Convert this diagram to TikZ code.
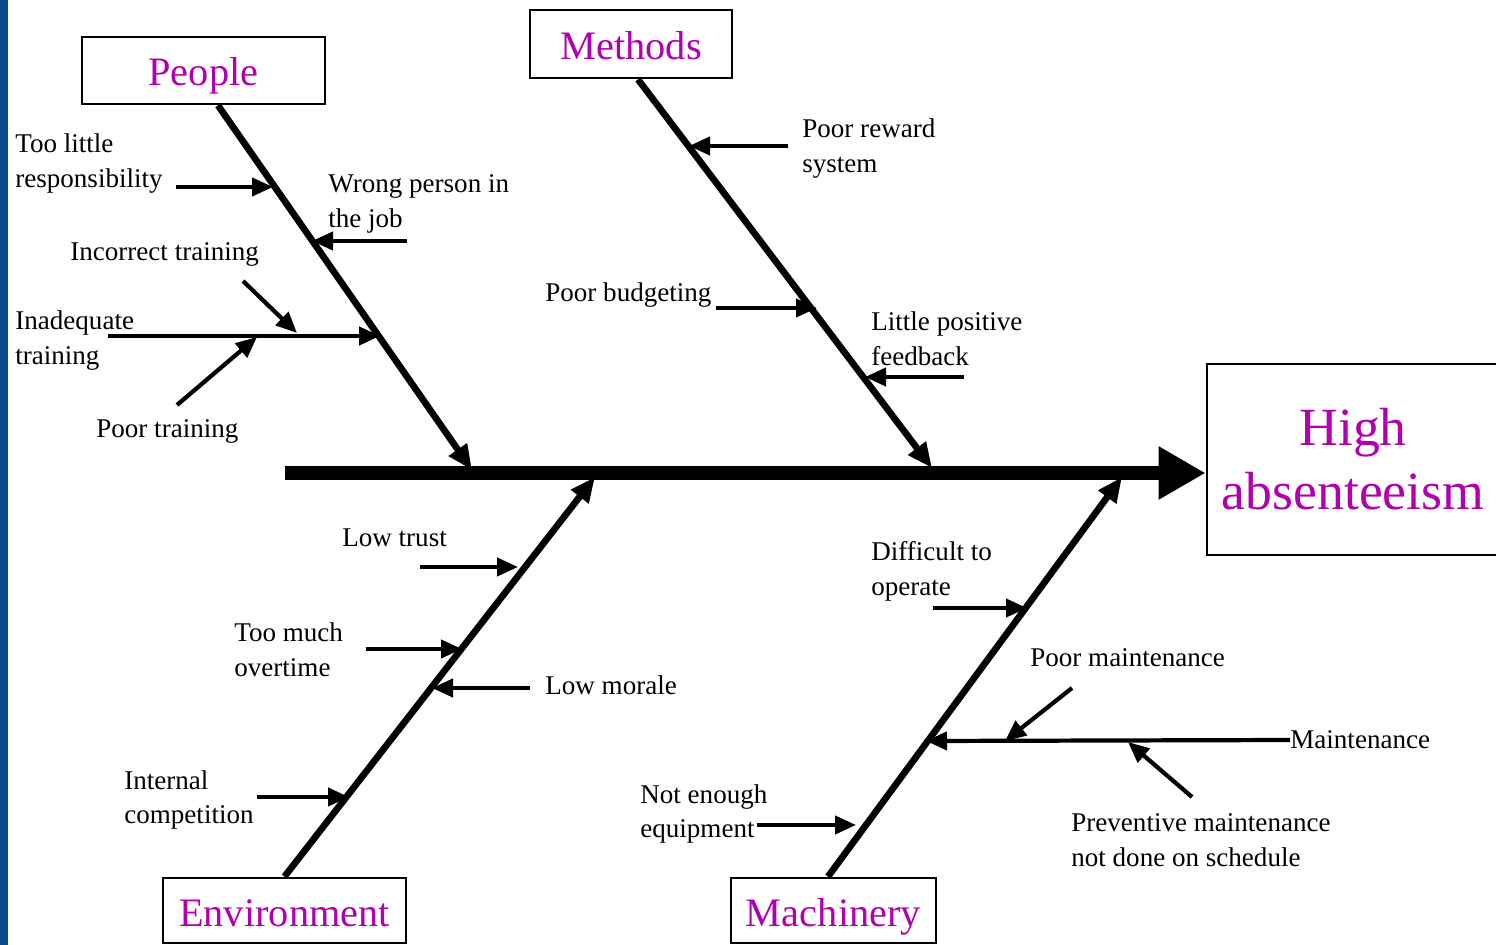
\documentclass[tikz,border=0pt]{standalone}
\usepackage{fontspec}
\setmainfont{Liberation Serif}
\usetikzlibrary{arrows.meta}
\definecolor{catmag}{RGB}{176,0,176}
\definecolor{edgeblue}{RGB}{12,74,140}
\newcommand{\causefont}{\fontsize{15.4}{19.9}\selectfont}
\newcommand{\catfont}{\fontsize{23}{27}\selectfont}
\newcommand{\effectfont}{\fontsize{30.6}{36.4}\selectfont}

\begin{document}
\begin{tikzpicture}[x=0.02cm, y=-0.02cm,
                    cat node/.style={draw, line width=1.6pt, inner sep=0pt, text=catmag, font=\catfont,
                                     text height=0.7cm, text depth=0.08cm},
                    cause node/.style={anchor=west, inner sep=0pt, align=left, font=\causefont},
                    spine/.style={line width=8pt, -{Triangle[length=0.94cm, width=1.0cm]}},
                    bone/.style={line width=3.8pt, -{Triangle[length=0.5cm, width=0.42cm]}},
                    cause/.style={line width=2.4pt, -{Triangle[length=0.42cm, width=0.36cm]}}]

  \useasboundingbox (0,0) rectangle (1496,945);
  \clip (0,0) rectangle (1496,945);
  \fill[white] (0,0) rectangle (1496,945);
  \fill[edgeblue] (0,0) rectangle (8,945);

  % effect and categories
  \node[cat node, minimum width=5.84cm, minimum height=3.82cm, align=center, font=\effectfont,
        text height=, text depth=] (effect) at (1353,459.5) {High\\absenteeism};
  \node[cat node, minimum width=4.86cm, minimum height=1.34cm] (people) at (203.5,70.5) {People};
  \node[cat node, minimum width=4.04cm, minimum height=1.36cm] (methods) at (631,44) {Methods};
  \node[cat node, minimum width=4.86cm, minimum height=1.30cm] (environment) at (284.5,910.5) {Environment};
  \node[cat node, minimum width=4.10cm, minimum height=1.30cm] (machinery) at (833.5,910.5) {Machinery};

  % causes
  \node[cause node] (tooLittle) at (15,164) {Too little\\responsibility};
  \node[cause node] (wrongPerson) at (328,204) {Wrong person in\\the job};
  \node[cause node] (incorrect) at (70,254) {Incorrect training};
  \node[cause node] (inadequate) at (15,341) {Inadequate\\training};
  \node[cause node] (poorTraining) at (96,431) {Poor training};
  \node[cause node] (poorReward) at (802,149) {Poor reward\\system};
  \node[cause node] (poorBudget) at (545,295) {Poor budgeting};
  \node[cause node] (littlePos) at (871,339) {Little positive\\feedback};
  \node[cause node] (lowTrust) at (342,538) {Low trust};
  \node[cause node] (tooMuch) at (234,650) {Too much\\overtime};
  \node[cause node] (lowMorale) at (545,685) {Low morale};
  \node[cause node] (internal) at (124,800) {Internal\\competition};
  \node[cause node] (difficult) at (871,571) {Difficult to\\operate};
  \node[cause node] (poorMaint) at (1030,658) {Poor maintenance};
  \node[cause node] (maint) at (1290,740) {Maintenance};
  \node[cause node] (preventive) at (1071,840) {Preventive maintenance\\not done on schedule};
  \node[cause node] (notEnough) at (640,814) {Not enough\\equipment};

  % spine and bones
  \coordinate (tail) at (285,473);
  \coordinate (pTip) at (472,470);
  \coordinate (mTip) at (932,468);
  \coordinate (eTip) at (595,477);
  \coordinate (kTip) at (1122,477);

  \draw[spine] (tail) -- (tail -| effect.west);
  \path[bone]
    ([xshift=0.29cm]people.south) edge (pTip)
    ([xshift=0.14cm]methods.south) edge (mTip)
    (environment.north) edge (eTip)
    ([xshift=-0.11cm]machinery.north) edge (kTip);

  % arrow ends
  \coordinate (p1) at (176,187);  \coordinate (p1t) at (273,187);
  \coordinate (p2) at (407,241);  \coordinate (p2t) at (312,241);
  \coordinate (p3) at (243,281);  \coordinate (p3t) at (297,333);
  \coordinate (p4) at (108,336);  \coordinate (p4t) at (380,336);
  \coordinate (p5) at (177,405);  \coordinate (p5t) at (257,337);
  \coordinate (m1) at (788,146);  \coordinate (m1t) at (689,146);
  \coordinate (m2) at (716,308);  \coordinate (m2t) at (817,308);
  \coordinate (m3) at (964,377);  \coordinate (m3t) at (865,377);
  \coordinate (e1) at (420,567);  \coordinate (e1t) at (518,567);
  \coordinate (e2) at (366,649);  \coordinate (e2t) at (462,649);
  \coordinate (e3) at (530,688);  \coordinate (e3t) at (432,688);
  \coordinate (e4) at (257,797);  \coordinate (e4t) at (349,797);
  \coordinate (k1) at (933,608);  \coordinate (k1t) at (1027,608);
  \coordinate (k2t) at (926,741);
  \coordinate (k3) at (1072,688); \coordinate (k3t) at (1005,741);
  \coordinate (k4) at (1192,797); \coordinate (k4t) at (1128,742);
  \coordinate (k5) at (757,825);  \coordinate (k5t) at (856,825);

  \path[cause]
    (p1) edge (p1t)
    (p2) edge (p2t)
    (p3) edge (p3t)
    (p4) edge (p4t)
    (p5) edge (p5t)
    (m1) edge (m1t)
    (m2) edge (m2t)
    (m3) edge (m3t)
    (e1) edge (e1t)
    (e2) edge (e2t)
    (e3) edge (e3t)
    (e4) edge (e4t)
    (k1) edge (k1t)
    (maint.west) edge (k2t)
    (k3) edge (k3t)
    (k4) edge (k4t)
    (k5) edge (k5t);
\end{tikzpicture}
\end{document}
